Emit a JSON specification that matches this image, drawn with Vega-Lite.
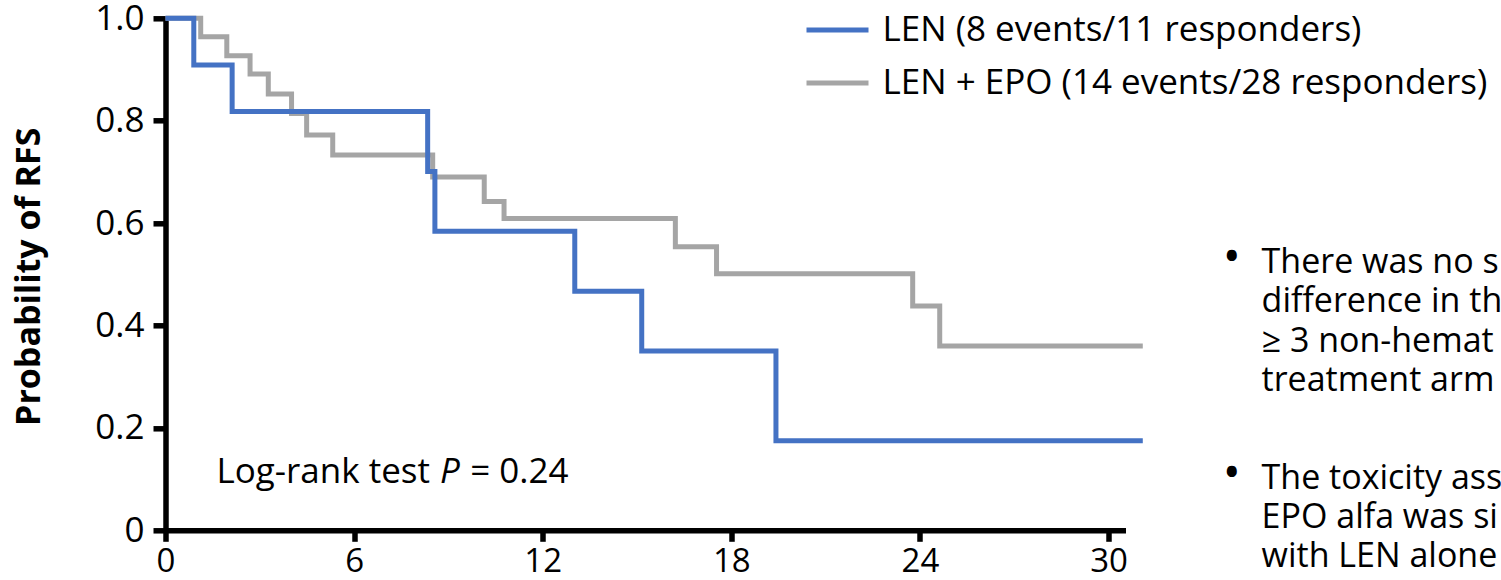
{
  "$schema": "https://vega.github.io/schema/vega-lite/v6.json",
  "width": 960,
  "height": 512,
  "autosize": {"type": "none"},
  "padding": {"left": 165.5, "top": 18.3, "right": 375.5, "bottom": 49.7},
  "background": "white",
  "config": {"view": {"stroke": null}, "font": "Open Sans"},
  "datasets": {
    "km": [
      {"arm": "LEN + EPO (14 events/28 responders)", "month": 0, "rfs": 1},
      {"arm": "LEN + EPO (14 events/28 responders)", "month": 1.12, "rfs": 0.964},
      {"arm": "LEN + EPO (14 events/28 responders)", "month": 1.95, "rfs": 0.927},
      {"arm": "LEN + EPO (14 events/28 responders)", "month": 2.69, "rfs": 0.891},
      {"arm": "LEN + EPO (14 events/28 responders)", "month": 3.27, "rfs": 0.852},
      {"arm": "LEN + EPO (14 events/28 responders)", "month": 4.01, "rfs": 0.814},
      {"arm": "LEN + EPO (14 events/28 responders)", "month": 4.49, "rfs": 0.772},
      {"arm": "LEN + EPO (14 events/28 responders)", "month": 5.32, "rfs": 0.733},
      {"arm": "LEN + EPO (14 events/28 responders)", "month": 8.5, "rfs": 0.69},
      {"arm": "LEN + EPO (14 events/28 responders)", "month": 10.14, "rfs": 0.642},
      {"arm": "LEN + EPO (14 events/28 responders)", "month": 10.77, "rfs": 0.609},
      {"arm": "LEN + EPO (14 events/28 responders)", "month": 16.22, "rfs": 0.554},
      {"arm": "LEN + EPO (14 events/28 responders)", "month": 17.53, "rfs": 0.501},
      {"arm": "LEN + EPO (14 events/28 responders)", "month": 23.77, "rfs": 0.438},
      {"arm": "LEN + EPO (14 events/28 responders)", "month": 24.63, "rfs": 0.36},
      {"arm": "LEN + EPO (14 events/28 responders)", "month": 31.09, "rfs": 0.36},
      {"arm": "LEN (8 events/11 responders)", "month": 0, "rfs": 1},
      {"arm": "LEN (8 events/11 responders)", "month": 0.9, "rfs": 0.909},
      {"arm": "LEN (8 events/11 responders)", "month": 2.12, "rfs": 0.818},
      {"arm": "LEN (8 events/11 responders)", "month": 8.34, "rfs": 0.701},
      {"arm": "LEN (8 events/11 responders)", "month": 8.57, "rfs": 0.584},
      {"arm": "LEN (8 events/11 responders)", "month": 13.02, "rfs": 0.467},
      {"arm": "LEN (8 events/11 responders)", "month": 15.15, "rfs": 0.35},
      {"arm": "LEN (8 events/11 responders)", "month": 19.42, "rfs": 0.175},
      {"arm": "LEN (8 events/11 responders)", "month": 31.09, "rfs": 0.175}
    ]
  },
  "layer": [
    {
      "data": {"name": "km"},
      "mark": {"type": "line", "interpolate": "step-after", "strokeWidth": 5, "strokeJoin": "miter", "clip": false},
      "encoding": {
        "x": {
          "field": "month", "type": "quantitative",
          "scale": {"domain": [0, 30.54], "nice": false, "zero": false},
          "axis": {
            "title": null, "values": [0, 6, 12, 18, 24, 30], "grid": false,
            "domainColor": "black", "domainWidth": 5.5, "tickColor": "black", "tickWidth": 5.5, "tickSize": 11,
            "labelFont": "Open Sans", "labelFontSize": 33, "labelColor": "black", "labelPadding": 4,
            "labelFlush": false, "labelOverlap": false
          }
        },
        "y": {
          "field": "rfs", "type": "quantitative",
          "scale": {"domain": [0, 1], "nice": false},
          "axis": {
            "title": "Probability of RFS", "values": [0, 0.2, 0.4, 0.6, 0.8, 1], "grid": false,
            "labelExpr": "datum.value == 0 ? '0' : format(datum.value, '.1f')",
            "domainColor": "black", "domainWidth": 5.5, "tickColor": "black", "tickWidth": 5.5, "tickSize": 12.5,
            "labelFont": "Open Sans", "labelFontSize": 35, "labelColor": "black", "labelPadding": 9,
            "labelFlush": false, "labelOverlap": false,
            "titleFont": "Open Sans", "titleFontWeight": "bold", "titleFontSize": 34, "titleColor": "black",
            "titleX": -136.5, "titleY": 258, "titleAngle": -90, "titleAlign": "center", "titleBaseline": "middle"
          }
        },
        "color": {
          "field": "arm", "type": "nominal",
          "scale": {"domain": ["LEN (8 events/11 responders)", "LEN + EPO (14 events/28 responders)"], "range": ["#4472C4", "#A5A5A5"]},
          "legend": {
            "title": null, "orient": "none", "legendX": 654, "legendY": -6.3,
            "symbolType": "M-2,0H2", "symbolSize": 961, "symbolStrokeWidth": 5,
            "labelFont": "Open Sans", "labelFontSize": 35, "labelColor": "black", "labelOffset": 27,
            "rowPadding": 17, "padding": 0, "labelLimit": 0
          }
        }
      }
    },
    {
      "data": {"values": [{"label": "Log-rank test"}]},
      "mark": {"type": "text", "align": "left", "baseline": "alphabetic", "font": "Open Sans", "fontSize": 35, "color": "black", "clip": false},
      "encoding": {"x": {"datum": 1.62}, "y": {"datum": 0.0925}, "text": {"field": "label"}}
    },
    {
      "data": {"values": [{"label": "P"}]},
      "mark": {"type": "text", "align": "left", "baseline": "alphabetic", "font": "Open Sans", "fontStyle": "italic", "fontSize": 35, "color": "black", "clip": false},
      "encoding": {"x": {"datum": 8.735}, "y": {"datum": 0.0925}, "text": {"field": "label"}}
    },
    {
      "data": {"values": [{"label": "= 0.24"}]},
      "mark": {"type": "text", "align": "left", "baseline": "alphabetic", "font": "Open Sans", "fontSize": 35, "color": "black", "clip": false},
      "encoding": {"x": {"datum": 9.692}, "y": {"datum": 0.0925}, "text": {"field": "label"}}
    },
    {
      "data": {"values": [{"label": "•"}]},
      "mark": {"type": "text", "align": "center", "baseline": "alphabetic", "font": "Open Sans", "fontSize": 48, "color": "black", "clip": false},
      "encoding": {"x": {"datum": 33.92}, "y": {"datum": 0.5034}, "text": {"field": "label"}}
    },
    {
      "data": {"values": [{"label": "•"}]},
      "mark": {"type": "text", "align": "center", "baseline": "alphabetic", "font": "Open Sans", "fontSize": 48, "color": "black", "clip": false},
      "encoding": {"x": {"datum": 33.92}, "y": {"datum": 0.0801}, "text": {"field": "label"}}
    },
    {
      "data": {"values": [{"lines": ["There was no s", "difference in th", "≥ 3 non-hemat", "treatment arm"]}]},
      "mark": {"type": "text", "align": "left", "baseline": "alphabetic", "font": "Open Sans", "fontSize": 34, "lineHeight": 39.5, "color": "black", "clip": false},
      "encoding": {"x": {"datum": 34.87}, "y": {"datum": 0.5034}, "text": {"field": "lines"}}
    },
    {
      "data": {"values": [{"lines": ["The toxicity ass", "EPO alfa was si", "with LEN alone"]}]},
      "mark": {"type": "text", "align": "left", "baseline": "alphabetic", "font": "Open Sans", "fontSize": 34, "lineHeight": 39, "color": "black", "clip": false},
      "encoding": {"x": {"datum": 34.87}, "y": {"datum": 0.0801}, "text": {"field": "lines"}}
    }
  ]
}
